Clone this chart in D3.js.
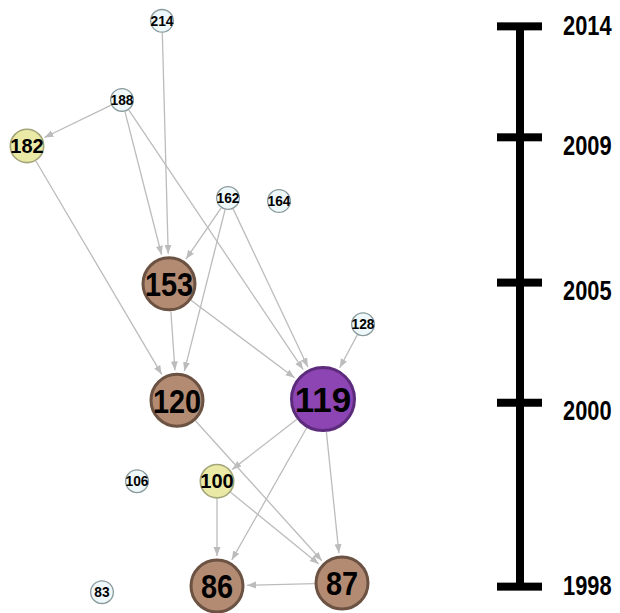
<!DOCTYPE html>
<html><head><meta charset="utf-8">
<script src="https://cdn.jsdelivr.net/npm/d3@7"></script>
<style>body{margin:0;background:#fff;overflow:hidden}</style>
</head><body><svg id="c" width="620" height="613"></svg>
<script>
// ---- data ----
const nodeIds    = ["214","188","182","162","164","153","128","120","119","106","100","83","86","87"];
const nodeGroups = ["none","none","cited","none","none","core","none","core","hub","none","cited","none","core","core"];
const nodeX      = [40.5, 30.5, 6.75, 57, 69.75, 42.25, 90.75, 44.25, 80.75, 34.25, 54.25, 25.5, 54.25, 85.5];
const nodeY      = [3.4, 16.3, 23.8, 32.3, 32.8, 46.3, 52.9, 65.3, 65.1, 78.5, 78.5, 96.6, 95.6, 95.1];
const edgeSources = ["214","188","188","188","182","162","162","162","153","153","128","119","119","119","120","100","100","87"];
const edgeTargets = ["153","182","153","119","120","153","120","119","120","119","119","100","86","87","87","86","87","86"];
const years      = [1998, 2000, 2005, 2009, 2014];
const yearLevels = [95.7, 65.7, 46.1, 22.4, 4.3];   // layout level of each year on the timeline

// ---- styles ----
const groupNames = ["none","cited","core","hub"];
const radius  = d3.scaleOrdinal(groupNames, [12, 17.5, 27.5, 33]);
const fill    = d3.scaleOrdinal(groupNames, ["#eef8fa","#eaeaa6","#b38b73","#8d45b3"]);
const stroke  = d3.scaleOrdinal(groupNames, ["#8a9a9c","#a3a478","#6b5242","#5c2b7c"]);
const strokeW = d3.scaleOrdinal(groupNames, [1.3, 1.6, 3, 3]);
const fontSz  = d3.scaleOrdinal(groupNames, [14.5, 20, 34, 35]);
const fontSx  = d3.scaleOrdinal(groupNames, [0.95, 1, 0.85, 1]);

const svg = d3.select("#c");
const x = d3.scaleLinear().domain([0,100]).range([0,400]);
const y = d3.scaleLinear().domain([0,100]).range([0,613]);

const nodes = nodeIds.map((id,i)=>({id, g:nodeGroups[i], x:x(nodeX[i]), y:y(nodeY[i])}));
const byId = new Map(nodes.map(n=>[n.id,n]));
const edges = edgeSources.map((s,i)=>({s:byId.get(s), t:byId.get(edgeTargets[i])}));

svg.append("defs").append("marker")
  .attr("id","arr").attr("markerUnits","userSpaceOnUse")
  .attr("viewBox","0 -4 9 8").attr("refX",9).attr("refY",0)
  .attr("markerWidth",9).attr("markerHeight",8).attr("orient","auto")
  .append("path").attr("d","M0,-3.5L9,0L0,3.5Z").attr("fill","#bcbcbc");

svg.append("g").selectAll("line").data(edges).join("line")
  .each(function(d){
    const dx=d.t.x-d.s.x, dy=d.t.y-d.s.y, L=Math.hypot(dx,dy);
    const ux=dx/L, uy=dy/L;
    const rs=radius(d.s.g), rt=radius(d.t.g)+strokeW(d.t.g)/2+1;
    d3.select(this)
      .attr("x1",d.s.x+ux*rs).attr("y1",d.s.y+uy*rs)
      .attr("x2",d.t.x-ux*rt).attr("y2",d.t.y-uy*rt);
  })
  .attr("stroke","#bcbcbc").attr("stroke-width",1.3)
  .attr("marker-end","url(#arr)");

const ng = svg.append("g").selectAll("g").data(nodes).join("g")
  .attr("transform",d=>`translate(${d.x},${d.y})`);
ng.append("circle")
  .attr("r",d=>radius(d.g)-strokeW(d.g)/2)
  .attr("fill",d=>fill(d.g)).attr("stroke",d=>stroke(d.g))
  .attr("stroke-width",d=>strokeW(d.g));
ng.append("text")
  .attr("transform",d=>`scale(${fontSx(d.g)},1)`)
  .attr("text-anchor","middle").attr("dy","0.36em")
  .attr("font-family","'Liberation Sans', Arial, sans-serif")
  .attr("font-weight","bold")
  .attr("font-size",d=>fontSz(d.g))
  .attr("fill","#000")
  .text(d=>d.id);

// ---- timeline ----
const ty = d3.scaleLinear().domain(years).range(yearLevels.map(y));
const [yMin, yMax] = d3.extent(years);
const tl = svg.append("g");
tl.append("rect")
  .attr("x",516).attr("width",8)
  .attr("y",ty(yMax)).attr("height",ty(yMin)-ty(yMax))
  .attr("fill","#000");
tl.selectAll("rect.cap").data(years).join("rect").attr("class","cap")
  .attr("x",497).attr("width",45)
  .attr("y",d=>ty(d)-4).attr("height",8).attr("fill","#000");
tl.selectAll("text").data(years).join("text")
  .attr("transform",d=>`translate(563,${ty(d)+((d===yMin||d===yMax)?-1.5:7.5)}) scale(0.78,1)`)
  .attr("dy","0.36em")
  .attr("font-family","'Liberation Sans', Arial, sans-serif")
  .attr("font-weight","bold").attr("font-size",28).attr("fill","#000")
  .text(d=>d);
</script></body></html>
